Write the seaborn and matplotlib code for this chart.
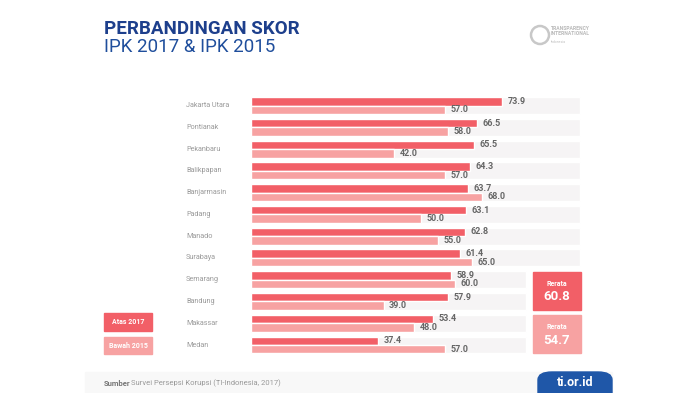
import pandas as pd
import matplotlib.pyplot as plt
import seaborn as sns
from matplotlib.patches import Rectangle, FancyBboxPatch, Circle
from matplotlib.transforms import blended_transform_factory

# Data
kota = ['Jakarta Utara', 'Pontianak', 'Pekanbaru', 'Balikpapan', 'Banjarmasin', 'Padang',
        'Manado', 'Surabaya', 'Semarang', 'Bandung', 'Makassar', 'Medan']
skor_2017 = [73.9, 66.5, 65.5, 64.3, 63.7, 63.1, 62.8, 61.4, 58.9, 57.9, 53.4, 37.4]
skor_2015 = [57.0, 58.0, 42.0, 57.0, 68.0, 50.0, 55.0, 65.0, 60.0, 39.0, 48.0, 57.0]
rerata = [60.8, 54.7]
tahun = ['Atas 2017', 'Bawah 2015']

C17 = '#f25f67'
C15 = '#f7a2a2'
BG = '#f6f4f5'
BLUE = '#1f4e9c'

df = pd.DataFrame({
    'kota': kota * 2,
    'skor': skor_2017 + skor_2015,
    'tahun': ['2017'] * len(kota) + ['2015'] * len(kota),
})

sns.set_style('white')
plt.rcParams['font.family'] = ['Roboto', 'DejaVu Sans']

W, H = 700, 393
fig = plt.figure(figsize=(7, 3.93), dpi=100)

def fx(px):
    return px / W

def fy(py):
    return 1 - py / H

# bar axes: x 0..100 maps to 251..591 px, rows centered 105.5..345 px
row_pitch = (345 - 105.5) / 11
top = 105.5 - row_pitch / 2
bot = 345 + row_pitch / 2
ax = fig.add_axes([fx(251), fy(bot), fx(340), (bot - top) / H])

# grey track behind each row (shorter where the average boxes sit)
track = [96.8] * 8 + [81.0] * 4
ax.barh(range(len(kota)), track, height=0.78, color=BG, zorder=0)

sns.barplot(data=df, y='kota', x='skor', hue='tahun', hue_order=['2017', '2015'],
            palette=[C17, C15], width=0.78, dodge=True, orient='h',
            saturation=1, legend=False, ax=ax, zorder=2)

for cont in ax.containers[1:]:
    ax.bar_label(cont, fmt='%.1f', padding=4, fontsize=6.5, fontweight='bold',
                 color='#666666')

ax.set_xlim(0, 100)
ax.set_ylim(len(kota) - 0.5, -0.5)
ax.axis('off')

# city labels, left aligned
tr = blended_transform_factory(fig.transFigure, ax.transData)
for i, k in enumerate(kota):
    ax.text(fx(186), i, k, transform=tr, ha='left', va='center', fontsize=5.2,
            color='#9a9a9a')

# title
fig.text(fx(104), fy(29), 'PERBANDINGAN SKOR', fontsize=13.5, fontweight='bold',
         color='#1d3f8c', va='center', ha='left')
fig.text(fx(104), fy(47), 'IPK 2017 & IPK 2015', fontsize=13.5, color=BLUE,
         va='center', ha='left')

# logo (faint)
fig.patches.append(Circle((5.40, 3.93 - 0.35), 0.09, transform=fig.dpi_scale_trans,
                          facecolor='none', edgecolor='#c8c8c8', lw=1.8))
fig.text(fx(551), fy(31), 'TRANSPARENCY\nINTERNATIONAL', fontsize=3.6,
         fontweight='bold', color='#b8b8b8', va='center', ha='left', linespacing=1.0)
fig.text(fx(551), fy(42), 'Indonesia', fontsize=2.5, color='#c0c0c0',
         va='center', ha='left')

# average boxes
for (y0, y1), col, val in zip([(272, 310), (315, 353)], [C17, C15], rerata):
    fig.patches.append(Rectangle((fx(533), fy(y1)), fx(48), (y1 - y0) / H,
                                 transform=fig.transFigure, color=col))
    fig.text(fx(557), fy(y0 + 12), 'Rerata', fontsize=5, fontweight='bold',
             color='white', ha='center', va='center')
    fig.text(fx(557), fy(y0 + 25), f'{val:.1f}', fontsize=9.5, fontweight='bold',
             color='white', ha='center', va='center')

# legend boxes
for (y0, y1), col, lab in zip([(313, 331), (337, 354)], [C17, C15], tahun):
    fig.patches.append(Rectangle((fx(104), fy(y1)), fx(48), (y1 - y0) / H,
                                 transform=fig.transFigure, color=col))
    fig.text(fx(128), fy((y0 + y1) / 2), lab, fontsize=5, fontweight='bold',
             color='white', ha='center', va='center')

# footer
fig.patches.append(Rectangle((fx(85), 0), fx(527), 21 / H,
                             transform=fig.transFigure, color='#f8f8f8', zorder=0))
fig.patches.append(FancyBboxPatch((fx(538), -0.05), fx(74), 0.05 + 21 / H,
                                  boxstyle='round,pad=0,rounding_size=0.02',
                                  transform=fig.transFigure, color='#1f57a8'))
fig.text(fx(575), fy(383), 'ti.or.id', fontsize=9, fontweight='bold',
         color='white', ha='center', va='center')
fig.text(fx(104), fy(383), 'Sumber', fontsize=5.5, fontweight='bold',
         color='#777777', ha='left', va='center')
fig.text(fx(131), fy(383), 'Survei Persepsi Korupsi (TI-Indonesia, 2017)',
         fontsize=5.5, color='#999999', ha='left', va='center')

fig.savefig('out.png', dpi=100)
